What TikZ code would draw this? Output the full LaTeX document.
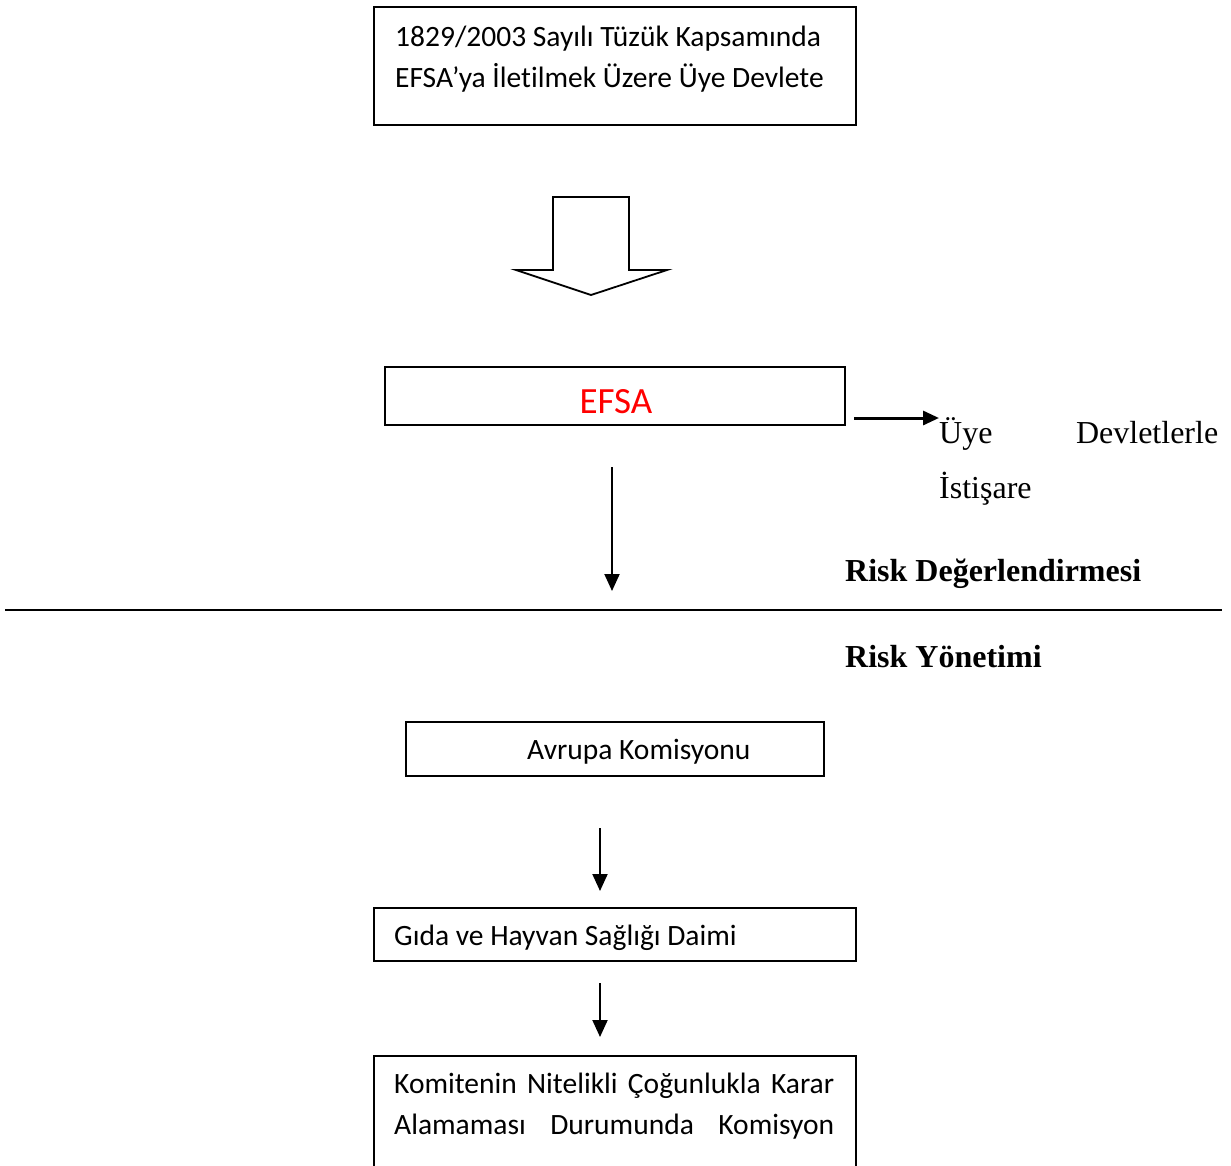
\documentclass[tikz,border=0pt]{standalone}
\usepackage{fontspec}
\setmainfont{Liberation Serif}
\newfontfamily\calfont[Ligatures=NoCommon]{Carlito}
\usetikzlibrary{arrows.meta}
\begin{document}
\begin{tikzpicture}[x=1pt,y=-1pt,
  box/.style={draw,line width=1.8pt,inner sep=0pt,anchor=north west},
  ctext/.style={font=\calfont\fontsize{29.5}{35}\selectfont,inner sep=0pt,anchor=base west},
  ttext/.style={font=\fontsize{32}{38}\selectfont,inner sep=0pt,anchor=base west},
  btext/.style={font=\fontsize{32}{38}\selectfont\bfseries,inner sep=0pt,anchor=base west},
  arr/.style={line width=2pt,-{Triangle[length=17pt,width=15pt]}}]
\useasboundingbox (0,0) rectangle (1231,1165);
\clip (0,0) rectangle (1231,1165);
% top box
\node[box,minimum width=482pt,minimum height=118pt] (b1) at (373,6) {};
\node[ctext] (t1a) at (395,46) {1829/2003 Sayılı Tüzük Kapsamında};
\node[ctext] (t1b) at (395,87) {EFSA’ya İletilmek Üzere Üye Devlete};
% block arrow
\draw[line width=1.8pt,line join=miter] (553,197) -- (629,197) -- (629,270) -- (667,270) -- (591,295) -- (516,270) -- (553,270) -- cycle;
% EFSA
\node[box,minimum width=460pt,minimum height=58pt] (efsa) at (384,366) {};
\node[font=\calfont\fontsize{37}{40}\selectfont,text=red,inner sep=0pt,anchor=base] (efsat) at (616,413) {EFSA};
\coordinate (r1) at (854,418);
\node[ttext] (u1) at (939,443) {\hbox to 279pt{Üye\hfill Devletlerle}};
\node[ttext] (u2) at (939,498) {İstişare};
\draw[line width=3pt,-{Triangle[length=16pt,width=14pt]}] (r1) -- (u1.north west |- r1);
\coordinate (v1) at (612,467);
\coordinate (v2) at (612,591);
\draw[arr] (v1) -- (v2);
\node[btext] (rd) at (845,581) {Risk Değerlendirmesi};
\coordinate (h1) at (5,610);
\coordinate (h2) at (1222,610);
\draw[line width=2.5pt] (h1) -- (h2);
\node[btext] (ry) at (845,667) {Risk Yönetimi};
% Avrupa Komisyonu
\node[box,minimum width=418pt,minimum height=54pt] (ak) at (405,721) {};
\node[ctext] (akt) at (527,759) {Avrupa Komisyonu};
\coordinate (a1) at (600,828);
\coordinate (a2) at (600,891);
\draw[arr] (a1) -- (a2);
% Gida
\node[box,minimum width=482pt,minimum height=53pt] (gd) at (373,907) {};
\node[ctext] (gdt) at (394,945) {Gıda ve Hayvan Sağlığı Daimi};
\coordinate (c1) at (600,983);
\coordinate (c2) at (600,1037);
\draw[arr] (c1) -- (c2);
% bottom box
\node[box,minimum width=482pt,minimum height=200pt] (km) at (373,1055) {};
\node[ctext] (kma) at (394,1093) {\hbox to 440pt{Komitenin\hfill Nitelikli\hfill Çoğunlukla\hfill Karar}};
\node[ctext] (kmb) at (394,1134) {\hbox to 440pt{Alamaması\hfill Durumunda\hfill Komisyon}};
\end{tikzpicture}
\end{document}
